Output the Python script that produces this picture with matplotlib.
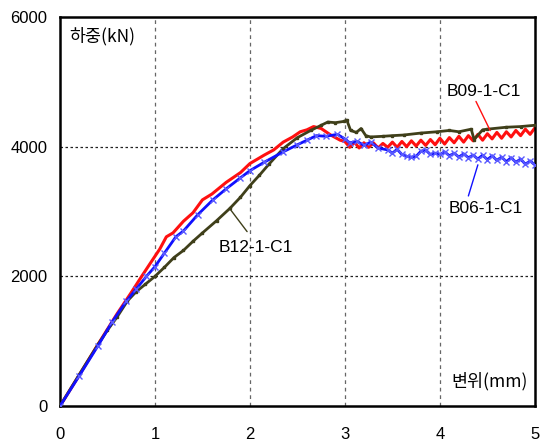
import numpy as np
import matplotlib
matplotlib.use("Agg")
import matplotlib.pyplot as plt

# displacement (mm) / load (kN)
b09_x = [0, 0.2, 0.4, 0.6, 0.75, 0.86, 0.95, 1.05, 1.12, 1.19, 1.3, 1.4, 1.5, 1.6, 1.75, 1.9, 2.0,
         2.15, 2.25, 2.35, 2.45, 2.53, 2.6, 2.67, 2.75, 2.85, 2.95,
         3.0, 3.05, 3.1, 3.15, 3.2, 3.25, 3.3, 3.35, 3.4, 3.45, 3.5, 3.55, 3.6, 3.65, 3.7, 3.75, 3.8, 3.85,
         3.9, 3.95, 4.0, 4.05, 4.1, 4.15, 4.2, 4.25, 4.3, 4.35, 4.4, 4.45, 4.5, 4.55, 4.6, 4.65, 4.7, 4.75,
         4.8, 4.85, 4.9, 4.95, 5.0]
b09_y = [0, 470, 950, 1420, 1750, 2000, 2200, 2420, 2610, 2670, 2850, 2980, 3180, 3270, 3450, 3600, 3740,
         3870, 3950, 4070, 4150, 4230, 4260, 4310, 4280, 4180, 4100,
         4080, 3990, 4070, 3980, 4060, 3990, 4060, 3980, 4050, 3990, 4070, 3990, 4080, 4000, 4090, 4010, 4100, 4020,
         4110, 4030, 4130, 4040, 4140, 4060, 4160, 4070, 4170, 4090, 4190, 4100, 4200, 4120, 4220, 4130, 4230, 4150,
         4250, 4170, 4270, 4190, 4290]

b06_x = [0, 0.2, 0.4, 0.55, 0.7, 0.8, 0.91, 1.0, 1.1, 1.22, 1.3, 1.45, 1.61, 1.75, 1.9, 2.0, 2.15, 2.35,
         2.5, 2.6, 2.7, 2.8, 2.92, 3.0, 3.05, 3.13, 3.2, 3.27, 3.35, 3.45, 3.5, 3.55, 3.6, 3.65, 3.7, 3.75,
         3.8, 3.85, 3.9, 3.95, 4.0, 4.05, 4.1, 4.15, 4.2, 4.25, 4.3, 4.35, 4.4, 4.45, 4.5, 4.55, 4.6, 4.65,
         4.7, 4.75, 4.8, 4.85, 4.9, 4.95, 5.0]
b06_y = [0, 460, 930, 1300, 1620, 1800, 2000, 2150, 2360, 2610, 2700, 2950, 3180, 3350, 3520, 3630, 3760, 3920,
         4030, 4100, 4170, 4160, 4190, 4120, 4060, 4080, 4020, 4070, 3980, 3950, 3900, 3960, 3880, 3850, 3840, 3850,
         3930, 3950, 3880, 3900, 3880, 3920, 3860, 3900, 3840, 3890, 3830, 3870, 3810, 3870, 3800, 3860, 3790, 3840,
         3770, 3830, 3760, 3810, 3730, 3780, 3720]

b12_x = [0, 0.2, 0.4, 0.5, 0.6, 0.71, 0.8, 0.9, 1.0, 1.1, 1.2, 1.3, 1.4, 1.5, 1.65, 1.79, 1.9, 2.0, 2.1,
         2.2, 2.35, 2.5, 2.64, 2.75, 2.82, 2.9, 2.99, 3.02, 3.06, 3.12, 3.17, 3.22, 3.27, 3.4, 3.5, 3.62,
         3.8, 3.97, 4.1, 4.2, 4.33, 4.36, 4.45, 4.5, 4.7, 4.85, 5.0]
b12_y = [0, 480, 950, 1170, 1370, 1620, 1760, 1880, 2000, 2140, 2290, 2400, 2540, 2670, 2860, 3050, 3220, 3400, 3560,
         3730, 3970, 4140, 4250, 4330, 4380, 4370, 4390, 4410, 4250, 4220, 4280, 4170, 4150, 4160, 4170, 4180,
         4210, 4230, 4250, 4230, 4270, 4110, 4260, 4270, 4300, 4310, 4330]

xticks = [0, 1, 2, 3, 4, 5]
yticks = [0, 2000, 4000, 6000]

num_font = ['Liberation Sans', 'DejaVu Sans']
kr_font = ['Noto Sans CJK KR', 'DejaVu Sans']

red = '#ff1010'
blue = '#1010ff'
olive = '#3f3f1a'

fig = plt.figure(figsize=(5.43, 4.45), dpi=100)
ax = fig.add_axes([0.1105, 0.0876, 0.8745, 0.8742])

ax.plot(b12_x, b12_y, color=olive, lw=2, marker='s', ms=2, zorder=3)
ax.plot(b06_x, b06_y, color=blue, lw=2, marker='x', ms=5, mec='#5a5aff', mew=1, zorder=4)
ax.plot(b09_x, b09_y, color=red, lw=2.2, zorder=2)

ax.set_xlim(0, 5)
ax.set_ylim(0, 6000)
ax.set_xticks(xticks)
ax.set_yticks(yticks)
ax.tick_params(length=0, labelsize=12)
ax.tick_params(axis='x', pad=15)
ax.tick_params(axis='y', pad=9)
for lab in ax.get_xticklabels() + ax.get_yticklabels():
    lab.set_family(num_font)

for v in [1, 2, 3, 4]:
    ax.axvline(v, color='#666666', lw=0.9, ls=(0, (3, 3)), zorder=1)
for v in [2000, 4000]:
    ax.axhline(v, color='#222222', lw=0.9, ls=(0, (2, 2)), zorder=1)

for s in ax.spines.values():
    s.set_linewidth(1.8)

ax.text(0.1, 5700, '하중(kN)', family=kr_font, fontsize=12.5, va='center', ha='left')
ax.text(4.93, 380, '변위(mm)', family=kr_font, fontsize=12.5, va='center', ha='right')

# labels with their leader lines
ax.text(4.46, 4853, 'B09-1-C1', family=num_font, fontsize=12.5, ha='center', va='center')
ax.annotate('', xy=(4.53, 4248), xytext=(4.38, 4698),
            arrowprops=dict(arrowstyle='-', color=red, lw=1, shrinkA=0, shrinkB=0))
ax.text(4.48, 3039, 'B06-1-C1', family=num_font, fontsize=12.5, ha='center', va='center')
ax.annotate('', xy=(4.40, 3720), xytext=(4.30, 3240),
            arrowprops=dict(arrowstyle='-', color=blue, lw=1, shrinkA=0, shrinkB=0))
ax.text(2.06, 2450, 'B12-1-C1', family=num_font, fontsize=12.5, ha='center', va='center')
ax.annotate('', xy=(1.79, 3039), xytext=(1.97, 2690),
            arrowprops=dict(arrowstyle='-', color=olive, lw=1, shrinkA=0, shrinkB=0))

fig.savefig('out.png', dpi=100)
